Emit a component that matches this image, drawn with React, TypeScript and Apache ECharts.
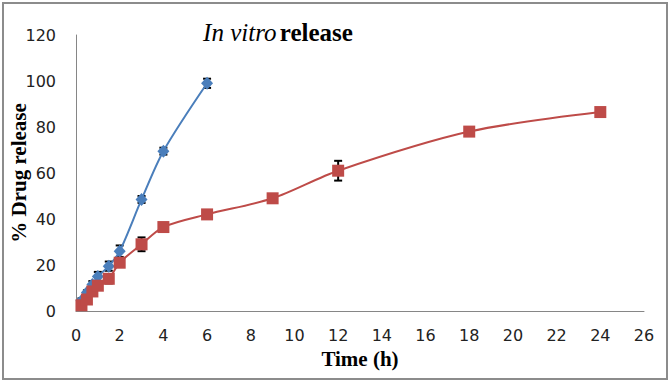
import React, { useEffect, useRef } from "react";
import * as echarts from "echarts";

const blueTime = [0.25, 0.5, 0.75, 1, 1.5, 2, 3, 4, 6];
const blueValue = [4.5, 8, 11.5, 15, 19.5, 26, 48.5, 69.5, 99];
const blueErr = [1, 1, 1.5, 2, 2, 2.5, 1.5, 1.5, 2];

const redTime = [0.25, 0.5, 0.75, 1, 1.5, 2, 3, 4, 6, 9, 12, 18, 24];
const redValue = [2.5, 5, 8.5, 11, 14, 21, 29, 36.5, 42, 49, 61, 78, 86.5];
const redErr = [0.5, 0.5, 1, 1, 2, 1, 3, 0.5, 0.5, 1.5, 4.3, 0.5, 0.5];

const xTicks = { min: 0, max: 26, interval: 2 };
const yTicks = { min: 0, max: 120, interval: 20 };

const tickFont = '"DejaVu Sans", "Open Sans", sans-serif';
const serif = '"Liberation Serif", "DejaVu Serif", serif';

function errData(t: number[], v: number[], e: number[]) {
  return t.map((x, i) => [x, v[i] - e[i], v[i] + e[i]]);
}

function errRender(params: any, api: any) {
  const x = api.value(0);
  const lo = api.coord([x, api.value(1)]);
  const hi = api.coord([x, api.value(2)]);
  const w = 4;
  const style = { stroke: "#000", lineWidth: 2 };
  return {
    type: "group",
    children: [
      { type: "line", shape: { x1: lo[0], y1: lo[1], x2: hi[0], y2: hi[1] }, style },
      { type: "line", shape: { x1: lo[0] - w, y1: lo[1], x2: lo[0] + w, y2: lo[1] }, style },
      { type: "line", shape: { x1: hi[0] - w, y1: hi[1], x2: hi[0] + w, y2: hi[1] }, style },
    ],
  };
}

export default function App() {
  const ref = useRef<HTMLDivElement>(null);
  useEffect(() => {
    const chart = echarts.init(ref.current!, null, { renderer: "svg" });
    chart.setOption({
      animation: false,
      backgroundColor: "#fff",
      grid: { left: 76, right: 26, top: 35, bottom: 72, outerBoundsMode: "none", containLabel: false },
      graphic: [
        {
          type: "rect",
          shape: { x: 3, y: 3, width: 664, height: 376 },
          style: { fill: "none", stroke: "#8c8c8c", lineWidth: 2 },
          z: -1,
        },
        {
          type: "text",
          x: 278,
          y: 32,
          style: {
            text: "{i|In vitro} {b|release}",
            align: "center",
            verticalAlign: "middle",
            rich: {
              i: { fontFamily: serif, fontStyle: "italic", fontSize: 25, fill: "#000" },
              b: { fontFamily: serif, fontWeight: "bold", fontSize: 25, fill: "#000" },
            },
          },
        },
      ],
      xAxis: {
        type: "value",
        min: xTicks.min,
        max: xTicks.max,
        interval: xTicks.interval,
        name: "Time (h)",
        nameLocation: "middle",
        nameGap: 37,
        nameMoveOverlap: false,
        nameTextStyle: { fontFamily: serif, fontWeight: "bold", fontSize: 21, color: "#000" },
        axisLine: { show: true, lineStyle: { color: "#868686", width: 1 } },
        axisTick: { show: false },
        splitLine: { show: false },
        axisLabel: { margin: 16, fontFamily: tickFont, fontSize: 16, color: "#222" },
      },
      yAxis: {
        type: "value",
        min: yTicks.min,
        max: yTicks.max,
        interval: yTicks.interval,
        name: "% Drug release",
        nameLocation: "middle",
        nameGap: 47,
        nameMoveOverlap: false,
        nameRotate: 90,
        nameTextStyle: { fontFamily: serif, fontWeight: "bold", fontSize: 21, color: "#000" },
        axisLine: { show: true, lineStyle: { color: "#868686", width: 1 } },
        axisTick: { show: false },
        splitLine: { show: false },
        axisLabel: { margin: 20, fontFamily: tickFont, fontSize: 16, color: "#222" },
      },
      series: [
        {
          type: "custom",
          renderItem: errRender,
          data: errData(blueTime, blueValue, blueErr),
          z: 1,
          encode: { x: 0, y: [1, 2] },
        },
        {
          type: "line",
          data: blueTime.map((t, i) => [t, blueValue[i]]),
          smooth: 0.3,
          symbol: "diamond",
          symbolSize: [12, 13],
          itemStyle: { color: "#4A7EBB" },
          lineStyle: { color: "#4A7EBB", width: 2 },
          z: 2,
        },
        {
          type: "custom",
          renderItem: errRender,
          data: errData(redTime, redValue, redErr),
          z: 3,
          encode: { x: 0, y: [1, 2] },
        },
        {
          type: "line",
          data: redTime.map((t, i) => [t, redValue[i]]),
          smooth: 0.3,
          symbol: "rect",
          symbolSize: 12,
          itemStyle: { color: "#BE4B48" },
          lineStyle: { color: "#BE4B48", width: 2 },
          z: 4,
        },
      ],
    });
    return () => chart.dispose();
  }, []);
  return <div ref={ref} style={{ width: 670, height: 383, position: "absolute", left: 0, top: 0 }} />;
}
